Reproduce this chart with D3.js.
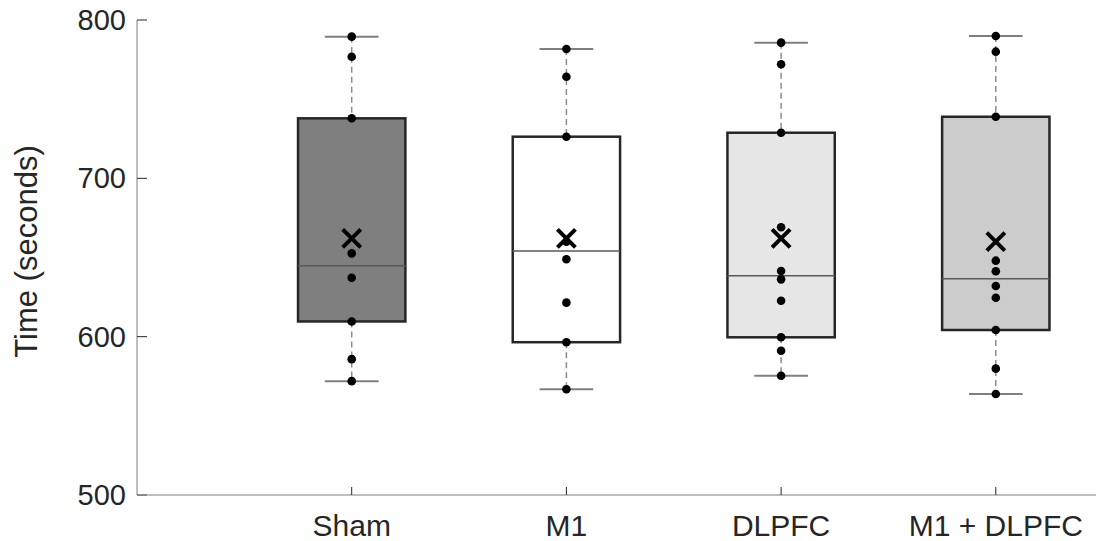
<!DOCTYPE html>
<html lang="en">
<head>
<meta charset="utf-8">
<title>Time by stimulation condition</title>
<script src="https://d3js.org/d3.v7.min.js"></script>
<style>
  body { margin: 0; background: #fff; }
  svg { display: block; font-family: "Liberation Sans", Arial, sans-serif; }
  .tick-label { fill: #262626; }
</style>
</head>
<body>
<script>
// categories and values
var categories = ["Sham", "M1", "DLPFC", "M1 + DLPFC"];
var fills = ["#7f7f7f", "#ffffff", "#e6e6e6", "#cccccc"];

var whiskerMin = [571.9, 566.8, 575.3, 563.8];
var q1 = [609.6, 596.5, 599.6, 604.2];
var medians = [644.8, 654.1, 638.5, 636.6];
var q3 = [737.9, 726.3, 728.8, 738.9];
var whiskerMax = [789.5, 781.7, 785.7, 789.9];
var means = [662.1, 662.1, 662.1, 660.0];

var shamPoints = [789.5, 776.8, 737.9, 652.6, 637.2, 609.6, 585.8, 571.9];
var m1Points = [781.7, 764.2, 726.3, 660.0, 648.9, 621.5, 596.5, 566.8];
var dlpfcPoints = [785.7, 772.0, 728.8, 669.1, 641.5, 636.2, 622.7, 599.6, 591.1, 575.3];
var comboPoints = [789.9, 780.0, 738.9, 648.0, 641.3, 632.0, 624.6, 604.2, 579.8, 563.8];
var allPoints = [shamPoints, m1Points, dlpfcPoints, comboPoints];

var yTicks = [500, 600, 700, 800];

var w = 1096, h = 541;
var plotLeft = 137, plotRight = 1096, plotTop = 20, plotBottom = 495;
var step = 214.7;

var svg = d3.select("body").append("svg")
    .attr("width", w)
    .attr("height", h);

var x = d3.scalePoint()
    .domain(categories)
    .range([plotLeft + step, plotLeft + 4 * step]);

var y = d3.scaleLinear()
    .domain([500, 800])
    .range([plotBottom, plotTop]);

var boxW = step * 0.5;
var capW = step * 0.25;

// y axis
svg.append("line")
    .attr("x1", plotLeft).attr("x2", plotLeft)
    .attr("y1", y(800)).attr("y2", y(500))
    .attr("stroke", "#bfbfbf").attr("stroke-width", 2);

svg.selectAll(".ytick").data(yTicks).enter().append("line")
    .attr("x1", plotLeft).attr("x2", plotLeft + 10)
    .attr("y1", function(d) { return y(d); })
    .attr("y2", function(d) { return y(d); })
    .attr("stroke", "#262626").attr("stroke-width", 1);

svg.selectAll(".ylab").data(yTicks).enter().append("text")
    .attr("class", "tick-label")
    .attr("x", plotLeft - 11)
    .attr("y", function(d) { return y(d) + 10; })
    .attr("text-anchor", "end")
    .style("font-size", "29px")
    .text(function(d) { return d; });

svg.append("text")
    .attr("transform", "translate(37," + ((plotTop + plotBottom) / 2 - 6) + ") rotate(-90)")
    .attr("text-anchor", "middle")
    .style("font-size", "31px")
    .attr("fill", "#262626")
    .text("Time (seconds)");

// x axis
svg.append("line")
    .attr("x1", plotLeft).attr("x2", plotRight)
    .attr("y1", plotBottom).attr("y2", plotBottom)
    .attr("stroke", "#7f7f7f").attr("stroke-width", 1);

svg.selectAll(".xtick").data(categories).enter().append("line")
    .attr("x1", function(d) { return x(d); })
    .attr("x2", function(d) { return x(d); })
    .attr("y1", plotBottom).attr("y2", plotBottom - 8)
    .attr("stroke", "#262626").attr("stroke-width", 1);

svg.selectAll(".xlab").data(categories).enter().append("text")
    .attr("class", "tick-label")
    .attr("x", function(d) { return x(d); })
    .attr("y", 536)
    .attr("text-anchor", "middle")
    .style("font-size", "30px")
    .text(function(d) { return d; });

// boxes
var g = svg.selectAll("g.box").data(categories).enter().append("g")
    .attr("class", "box");

// whiskers (dashed)
g.append("line")
    .attr("x1", function(d) { return x(d); })
    .attr("x2", function(d) { return x(d); })
    .attr("y1", function(d, i) { return y(whiskerMax[i]); })
    .attr("y2", function(d, i) { return y(q3[i]); })
    .attr("stroke", "#8c8c8c").attr("stroke-width", 1.5)
    .attr("stroke-dasharray", "6,4");
g.append("line")
    .attr("x1", function(d) { return x(d); })
    .attr("x2", function(d) { return x(d); })
    .attr("y1", function(d, i) { return y(q1[i]); })
    .attr("y2", function(d, i) { return y(whiskerMin[i]); })
    .attr("stroke", "#8c8c8c").attr("stroke-width", 1.5)
    .attr("stroke-dasharray", "6,4");

// caps
g.append("line")
    .attr("x1", function(d) { return x(d) - capW / 2; })
    .attr("x2", function(d) { return x(d) + capW / 2; })
    .attr("y1", function(d, i) { return y(whiskerMax[i]); })
    .attr("y2", function(d, i) { return y(whiskerMax[i]); })
    .attr("stroke", "#7f7f7f").attr("stroke-width", 2);
g.append("line")
    .attr("x1", function(d) { return x(d) - capW / 2; })
    .attr("x2", function(d) { return x(d) + capW / 2; })
    .attr("y1", function(d, i) { return y(whiskerMin[i]); })
    .attr("y2", function(d, i) { return y(whiskerMin[i]); })
    .attr("stroke", "#7f7f7f").attr("stroke-width", 2);

g.append("rect")
    .attr("x", function(d) { return x(d) - boxW / 2; })
    .attr("y", function(d, i) { return y(q3[i]); })
    .attr("width", boxW)
    .attr("height", function(d, i) { return y(q1[i]) - y(q3[i]); })
    .attr("fill", function(d, i) { return fills[i]; })
    .attr("stroke", "#262626").attr("stroke-width", 2.5);

g.append("line")
    .attr("x1", function(d) { return x(d) - boxW / 2; })
    .attr("x2", function(d) { return x(d) + boxW / 2; })
    .attr("y1", function(d, i) { return y(medians[i]); })
    .attr("y2", function(d, i) { return y(medians[i]); })
    .attr("stroke", "#595959").attr("stroke-width", 1.5);

// data points
g.each(function(d, i) {
    d3.select(this).selectAll("circle").data(allPoints[i]).enter().append("circle")
        .attr("cx", x(d))
        .attr("cy", function(v) { return y(v); })
        .attr("r", 4.3)
        .attr("fill", "#000");
});

// mean markers
var mk = 9;
g.append("path")
    .attr("d", function(d, i) {
        var cx = x(d), cy = y(means[i]);
        return "M" + (cx - mk) + "," + (cy - mk) + "L" + (cx + mk) + "," + (cy + mk) +
               "M" + (cx - mk) + "," + (cy + mk) + "L" + (cx + mk) + "," + (cy - mk);
    })
    .attr("stroke", "#000").attr("stroke-width", 4)
    .attr("fill", "none");
</script>
</body>
</html>
